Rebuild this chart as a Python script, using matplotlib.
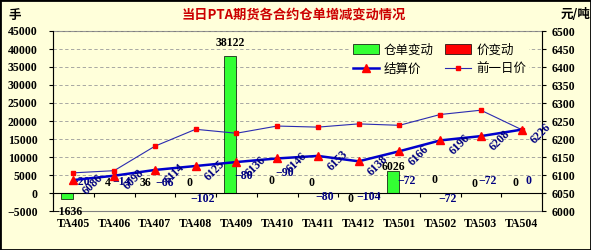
import matplotlib
matplotlib.use('Agg')
import matplotlib.pyplot as plt
import numpy as np
from matplotlib.patches import Rectangle, Patch
from matplotlib.lines import Line2D

plt.rcParams['font.family'] = ['Liberation Serif', 'Noto Sans CJK SC']
plt.rcParams['axes.unicode_minus'] = True

# ---------------- data ----------------
categories = ['TA405', 'TA406', 'TA407', 'TA408', 'TA409', 'TA410',
              'TA411', 'TA412', 'TA501', 'TA502', 'TA503', 'TA504']
warehouse_change = [-1636, 4, 36, 0, 38122, 0, 0, 0, 6026, 0, 0, 0]
price_change = [-20, -14, -66, -102, -80, -90, -80, -104, -72, -72, -72, 0]
settle_price = [6086, 6098, 6114, 6125, 6136, 6146, 6153, 6138, 6166, 6196, 6208, 6226]
prev_price = [6106, 6112, 6180, 6227, 6216, 6236, 6233, 6242, 6238, 6268, 6280, 6226]
left_ticks = list(range(-5000, 45001, 5000))
right_ticks = list(range(6000, 6501, 50))

title = '当日PTA期货各合约仓单增减变动情况'
left_unit = '手'
right_unit = '元/吨'
legend_labels = ['仓单变动', '价变动', '结算价', '前一日价']

# label offsets (pixels) - styling only
green_label_dy = [-13, 10, 10, 10, 13, 12, 10, -6, 4, 13, 9, 10]
green_label_dx = [0, 0, -3, 0, 0, 0, 0, -2, 0, 0, 0, 0]
red_label_dy = [11, 11, 10, -6, 17, 20, -4, -4, 12, -6, 12, 12]
red_label_dx = [1, 1, 4, 1, 1, 1, 1, 4, 1, 1, 1, 1]

# ---------------- style ----------------
bg = '#FFFFDA'
green = '#33FF33'
red = '#FF0000'
navy = '#000080'
blue = '#0000CC'
W, H = 591, 250
px = 72.0 / 100.0  # points per pixel

fig = plt.figure(figsize=(W / 100, H / 100), dpi=100)
fig.patch.set_facecolor(bg)
ax = fig.add_axes([53 / W, 1 - 211 / H, (542 - 53) / W, (211 - 31) / H])
ax.set_facecolor(bg)

x = np.arange(len(categories))
bw = 0.3
ax.bar(x - bw / 2, warehouse_change, width=bw, color=green, edgecolor='black', linewidth=0.5, zorder=2)
ax.bar(x + bw / 2, price_change, width=bw, color=red, edgecolor='black', linewidth=0.5, zorder=2)

ax.set_xlim(-0.5, len(categories) - 0.5)
ax.set_ylim(left_ticks[0], left_ticks[-1])
ax.set_yticks(left_ticks)
ax.set_yticklabels([str(t).replace('-', '\u2212') for t in left_ticks])
ax.yaxis.grid(True, linestyle=(0, (4, 3)), color='#9A9A9A', linewidth=0.6)
ax.set_axisbelow(True)

ax.spines['bottom'].set_position(('data', 0))
ax.spines['bottom'].set_color('black')
ax.spines['bottom'].set_linewidth(0.8)
ax.spines['left'].set_color('black')
ax.spines['left'].set_linewidth(0.8)
ax.spines['top'].set_visible(False)
ax.spines['right'].set_visible(False)
# plot-area frame
ax.add_patch(Rectangle((0, 0), 1, 1, transform=ax.transAxes, fill=False,
                       edgecolor='#808080', linewidth=0.8, clip_on=False, zorder=0.5))

ax.set_xticks(np.arange(-0.5, len(categories), 1.0))
ax.set_xticklabels([])
ax.tick_params(axis='x', which='major', direction='out', length=3, width=0.8, color='black')
ax.set_xticks(x, minor=True)
ax.set_xticklabels(categories, minor=True, fontsize=8.5, fontweight='bold')
ax.tick_params(axis='x', which='minor', length=0, pad=18)
ax.tick_params(axis='y', direction='out', length=3, width=0.8, pad=8, labelsize=8.5)
for lab in ax.get_yticklabels():
    lab.set_fontweight('bold')

# bar labels
def fmt(v):
    return str(v).replace('-', '\u2212')

for xi, v, dx, dy in zip(x, warehouse_change, green_label_dx, green_label_dy):
    ax.annotate(fmt(v), (xi - bw / 2, v), xytext=(dx * px, dy * px), textcoords='offset points',
                ha='center', va='center', fontsize=8.5, fontweight='bold', color='black', zorder=5)
for xi, v, dx, dy in zip(x, price_change, red_label_dx, red_label_dy):
    ax.annotate(fmt(v), (xi + bw / 2, v), xytext=(dx * px, dy * px), textcoords='offset points',
                ha='center', va='center', fontsize=8.5, fontweight='bold', color=navy, zorder=5)

# right axis
ax2 = ax.twinx()
ax2.set_ylim(right_ticks[0], right_ticks[-1])
ax2.set_yticks(right_ticks)
for s in ['top', 'left', 'bottom']:
    ax2.spines[s].set_visible(False)
ax2.spines['right'].set_color('black')
ax2.spines['right'].set_linewidth(0.8)
ax2.tick_params(axis='y', direction='out', length=3, width=0.8, pad=4, labelsize=8.5)
for lab in ax2.get_yticklabels():
    lab.set_fontweight('bold')

ax2.plot(x, prev_price, color='#2B2BB0', linewidth=0.8, marker='s', markersize=2.6,
         markerfacecolor=red, markeredgecolor=red, zorder=3)
ax2.plot(x, settle_price, color=blue, linewidth=1.8, marker='^', markersize=5.5,
         markerfacecolor=red, markeredgecolor=red, zorder=4)
for xi, p in zip(x, settle_price):
    ax2.annotate(str(p), (xi, p), xytext=(14, -3), textcoords='offset points',
                 rotation=45, ha='center', va='center', fontsize=8.5, fontweight='bold',
                 color=navy, zorder=6)

# legend
handles = [Patch(facecolor=green, edgecolor='black', linewidth=0.5),
           Line2D([], [], color=blue, linewidth=1.8, marker='^', markersize=5.5,
                  markerfacecolor=red, markeredgecolor=red),
           Patch(facecolor=red, edgecolor='black', linewidth=0.5),
           Line2D([], [], color='#2B2BB0', linewidth=0.8, marker='s', markersize=2.6,
                  markerfacecolor=red, markeredgecolor=red)]
labels = [legend_labels[0], legend_labels[2], legend_labels[1], legend_labels[3]]
leg = fig.legend(handles, labels, loc='upper left', bbox_to_anchor=(350 / W, 1 - 41 / H),
                 ncol=2, frameon=True, facecolor=bg, edgecolor='none', framealpha=1,
                 prop={'family': 'Noto Sans CJK SC', 'size': 9, 'weight': 'medium'},
                 handlelength=2.1, handleheight=0.8, handletextpad=0.4,
                 columnspacing=0.9, labelspacing=0.5, borderpad=0.2, borderaxespad=0)
leg.set_zorder(10)

# texts
fig.text(294 / W, 1 - 15 / H, title, ha='center', va='center', color='#CC0000',
         fontsize=9.5, fontweight='bold', family='Noto Sans CJK SC')
fig.text(15 / W, 1 - 15 / H, left_unit, ha='center', va='center', color='black',
         fontsize=9, fontweight='bold', family='Noto Sans CJK SC')
fig.text(576 / W, 1 - 15 / H, right_unit, ha='center', va='center', color='black',
         fontsize=9, fontweight='bold', family='Noto Sans CJK SC')

fig.add_artist(Rectangle((0, 0), 1, 1, transform=fig.transFigure, fill=False,
                         edgecolor='black', linewidth=2))

fig.savefig('out.png', dpi=100, facecolor=bg)
